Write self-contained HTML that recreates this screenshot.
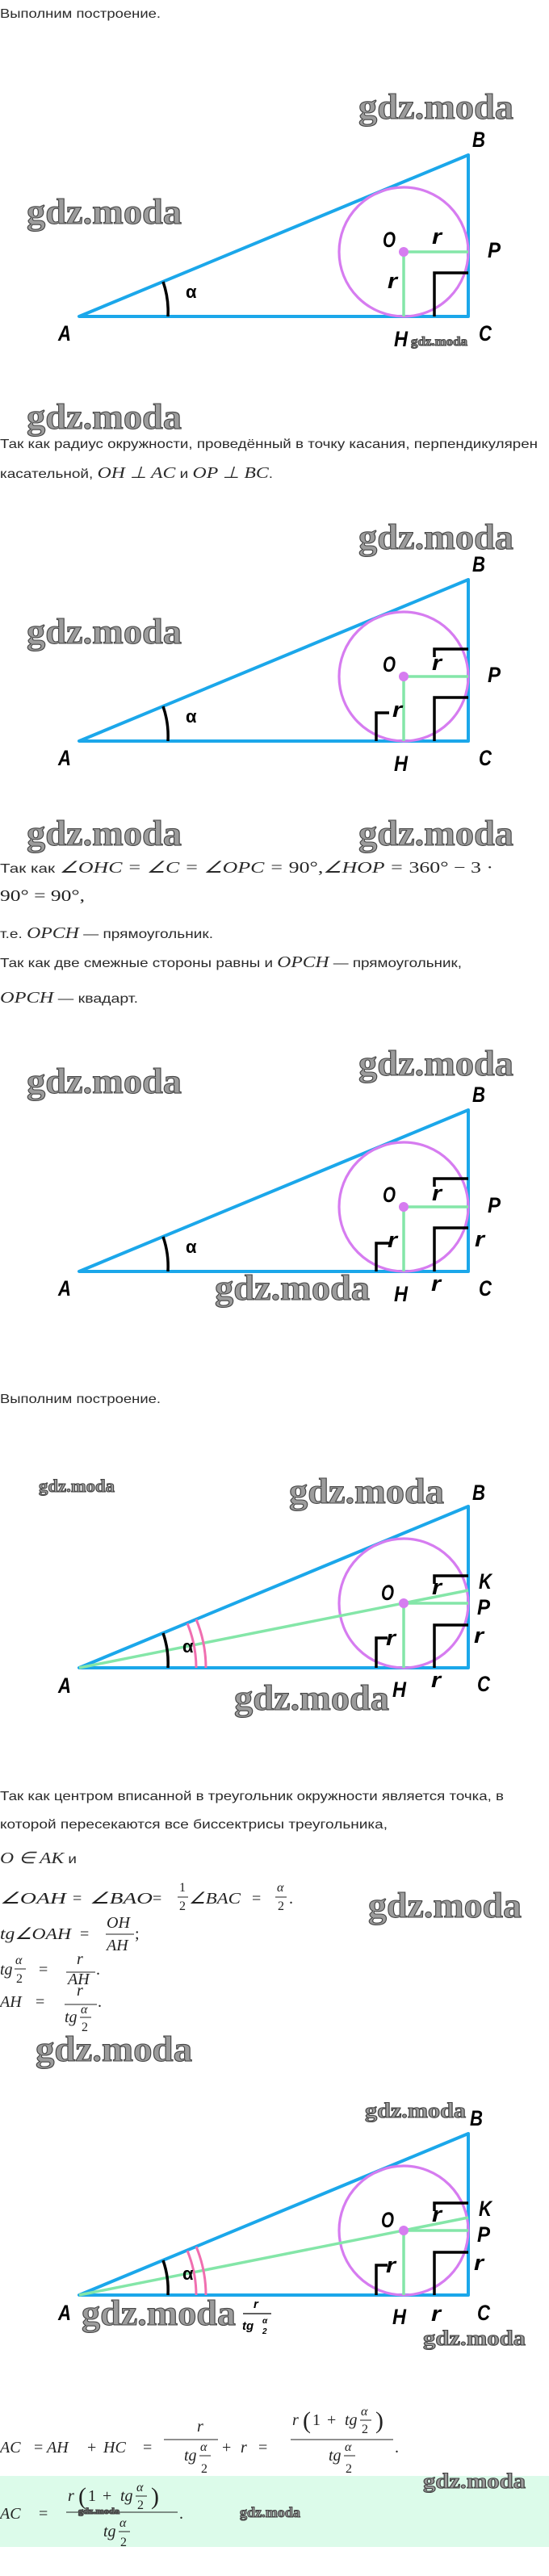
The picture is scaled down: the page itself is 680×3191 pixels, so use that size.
<!DOCTYPE html>
<html><head><meta charset="utf-8">
<style>
html,body{margin:0;padding:0;background:#fff;}
svg{display:block;}
.t{font-family:"Liberation Sans",sans-serif;font-size:16px;fill:#2a2a2a;}
.m{font-family:"Liberation Serif",serif;font-style:italic;}
.mn{font-family:"Liberation Serif",serif;font-style:normal;}
.mx{font-family:"Liberation Serif",serif;font-size:20px;fill:#222;}
.sm{font-family:"Liberation Serif",serif;font-size:15px;fill:#222;}
.wm{font-family:"Liberation Serif",serif;font-weight:bold;fill:#9c9c9c;stroke:#454545;stroke-width:1.1;}
.lb{font-family:"Liberation Sans",sans-serif;font-style:italic;font-weight:bold;font-size:27px;fill:#000;}
.al{font-family:"Liberation Sans",sans-serif;font-weight:bold;font-size:22px;fill:#000;}
.tri{fill:none;stroke:#1ba7ea;stroke-width:4;stroke-linejoin:round;}
.cir{fill:none;stroke:#d67cf0;stroke-width:3.2;}
.gr{stroke:#84e6a8;stroke-width:3.5;fill:none;}
.bk{stroke:#000;stroke-width:3.5;fill:none;}
.pk{stroke:#f06fb0;stroke-width:3;fill:none;}
</style></head>
<body>
<svg width="680" height="3191" viewBox="0 0 680 3191" xmlns="http://www.w3.org/2000/svg">

<!-- ===== Text 1 ===== -->
<text class="t" x="0" y="22" textLength="199" lengthAdjust="spacingAndGlyphs">Выполним построение.</text>

<!-- ===== Diagram 1 (Y=392) ===== -->
<g>
<polygon class="tri" points="98,392 580,392 580,192"/>
<circle class="cir" cx="500" cy="312" r="80"/>
<line class="gr" x1="500" y1="312" x2="580" y2="312"/>
<line class="gr" x1="500" y1="312" x2="500" y2="392"/>
<circle cx="500" cy="312" r="6" fill="#d67cf0"/>
<path class="bk" d="M538,392 V338 H580"/>
<path class="bk" d="M208,392 A112,112 0 0 0 202,349"/>
<text class="lb" x="585" y="182" textLength="16" lengthAdjust="spacingAndGlyphs">B</text>
<text class="lb" x="72" y="422" textLength="16" lengthAdjust="spacingAndGlyphs">A</text>
<text class="lb" x="593" y="422" textLength="16" lengthAdjust="spacingAndGlyphs">C</text>
<text class="lb" x="488" y="429" textLength="17" lengthAdjust="spacingAndGlyphs">H</text>
<text class="lb" x="474" y="306" textLength="16" lengthAdjust="spacingAndGlyphs">O</text>
<text class="lb" x="604" y="319" textLength="16" lengthAdjust="spacingAndGlyphs">P</text>
<text class="lb" x="535" y="302" textLength="12" lengthAdjust="spacingAndGlyphs">r</text>
<text class="lb" x="480" y="357" textLength="12" lengthAdjust="spacingAndGlyphs">r</text>
<text class="al" x="230" y="369">α</text>
</g>
<text class="wm" x="444" y="147" font-size="44" textLength="192" lengthAdjust="spacingAndGlyphs">gdz.moda</text>
<text class="wm" x="33" y="277" font-size="44" textLength="192" lengthAdjust="spacingAndGlyphs">gdz.moda</text>
<text class="wm" x="509" y="428" font-size="16" stroke-width="0.5" textLength="70" lengthAdjust="spacingAndGlyphs">gdz.moda</text>
<text class="wm" x="33" y="531" font-size="44" textLength="192" lengthAdjust="spacingAndGlyphs">gdz.moda</text>

<text class="t" x="0" y="555" textLength="666" lengthAdjust="spacingAndGlyphs">Так как радиус окружности, проведённый в точку касания, перпендикулярен</text>
<text class="t" x="0" y="592" textLength="338" lengthAdjust="spacingAndGlyphs">касательной, <tspan class="m" font-size="20">OH ⊥ AC</tspan> и <tspan class="m" font-size="20">OP ⊥ BC</tspan>.</text>

<!-- ===== Diagram 2 (Y=918) ===== -->
<g>
<polygon class="tri" points="98,918 580,918 580,718"/>
<circle class="cir" cx="500" cy="838" r="80"/>
<line class="gr" x1="500" y1="838" x2="580" y2="838"/>
<line class="gr" x1="500" y1="838" x2="500" y2="918"/>
<circle cx="500" cy="838" r="6" fill="#d67cf0"/>
<path class="bk" d="M538,918 V864 H580"/>
<path class="bk" d="M538,814 V804 H580"/>
<path class="bk" d="M466,918 V883 H482"/>
<path class="bk" d="M208,918 A112,112 0 0 0 202,875"/>
<text class="lb" x="585" y="708" textLength="16" lengthAdjust="spacingAndGlyphs">B</text>
<text class="lb" x="72" y="948" textLength="16" lengthAdjust="spacingAndGlyphs">A</text>
<text class="lb" x="593" y="948" textLength="16" lengthAdjust="spacingAndGlyphs">C</text>
<text class="lb" x="488" y="955" textLength="17" lengthAdjust="spacingAndGlyphs">H</text>
<text class="lb" x="474" y="832" textLength="16" lengthAdjust="spacingAndGlyphs">O</text>
<text class="lb" x="604" y="845" textLength="16" lengthAdjust="spacingAndGlyphs">P</text>
<text class="lb" x="535" y="830" textLength="12" lengthAdjust="spacingAndGlyphs">r</text>
<text class="lb" x="486" y="888" textLength="12" lengthAdjust="spacingAndGlyphs">r</text>
<text class="al" x="230" y="895">α</text>
</g>
<text class="wm" x="444" y="680" font-size="44" textLength="192" lengthAdjust="spacingAndGlyphs">gdz.moda</text>
<text class="wm" x="33" y="797" font-size="44" textLength="192" lengthAdjust="spacingAndGlyphs">gdz.moda</text>
<text class="wm" x="33" y="1047" font-size="44" textLength="192" lengthAdjust="spacingAndGlyphs">gdz.moda</text>
<text class="wm" x="444" y="1047" font-size="44" textLength="192" lengthAdjust="spacingAndGlyphs">gdz.moda</text>

<text class="t" x="0" y="1081" textLength="611" lengthAdjust="spacingAndGlyphs">Так как <tspan class="m" font-size="20">∠OHC  =  ∠C  =  ∠OPC  = </tspan><tspan class="mn" font-size="20"> 90°,</tspan><tspan class="m" font-size="20">∠HOP  = </tspan><tspan class="mn" font-size="20"> 360°  −  3 ·</tspan></text>
<text class="mx" x="0" y="1116" textLength="105" lengthAdjust="spacingAndGlyphs">90°  =  90°,</text>
<text class="t" x="0" y="1162" textLength="264" lengthAdjust="spacingAndGlyphs">т.е. <tspan class="m" font-size="20">OPCH</tspan> — прямоугольник.</text>
<text class="t" x="0" y="1198" textLength="572" lengthAdjust="spacingAndGlyphs">Так как две смежные стороны равны и <tspan class="m" font-size="20">OPCH</tspan> — прямоугольник,</text>
<text class="t" x="0" y="1242" textLength="171" lengthAdjust="spacingAndGlyphs"><tspan class="m" font-size="20">OPCH</tspan> — квадарт.</text>

<!-- ===== Diagram 3 (Y=1575) ===== -->
<g>
<polygon class="tri" points="98,1575 580,1575 580,1375"/>
<circle class="cir" cx="500" cy="1495" r="80"/>
<line class="gr" x1="500" y1="1495" x2="580" y2="1495"/>
<line class="gr" x1="500" y1="1495" x2="500" y2="1575"/>
<circle cx="500" cy="1495" r="6" fill="#d67cf0"/>
<path class="bk" d="M538,1575 V1521 H580"/>
<path class="bk" d="M538,1470 V1460 H580"/>
<path class="bk" d="M466,1575 V1540 H482"/>
<path class="bk" d="M208,1575 A112,112 0 0 0 202,1532"/>
<text class="lb" x="585" y="1365" textLength="16" lengthAdjust="spacingAndGlyphs">B</text>
<text class="lb" x="72" y="1605" textLength="16" lengthAdjust="spacingAndGlyphs">A</text>
<text class="lb" x="593" y="1605" textLength="16" lengthAdjust="spacingAndGlyphs">C</text>
<text class="lb" x="488" y="1612" textLength="17" lengthAdjust="spacingAndGlyphs">H</text>
<text class="lb" x="474" y="1489" textLength="16" lengthAdjust="spacingAndGlyphs">O</text>
<text class="lb" x="604" y="1502" textLength="16" lengthAdjust="spacingAndGlyphs">P</text>
<text class="lb" x="535" y="1487" textLength="12" lengthAdjust="spacingAndGlyphs">r</text>
<text class="lb" x="480" y="1545" textLength="12" lengthAdjust="spacingAndGlyphs">r</text>
<text class="lb" x="588" y="1544" textLength="12" lengthAdjust="spacingAndGlyphs">r</text>
<text class="lb" x="534" y="1599" textLength="12" lengthAdjust="spacingAndGlyphs">r</text>
<text class="al" x="230" y="1552">α</text>
</g>
<text class="wm" x="444" y="1332" font-size="44" textLength="192" lengthAdjust="spacingAndGlyphs">gdz.moda</text>
<text class="wm" x="33" y="1354" font-size="44" textLength="192" lengthAdjust="spacingAndGlyphs">gdz.moda</text>
<text class="wm" x="266" y="1610" font-size="44" textLength="192" lengthAdjust="spacingAndGlyphs">gdz.moda</text>

<text class="t" x="0" y="1738" textLength="199" lengthAdjust="spacingAndGlyphs">Выполним построение.</text>

<!-- ===== Diagram 4 (Y=2066) ===== -->
<g>
<polygon class="tri" points="98,2066 580,2066 580,1866"/>
<circle class="cir" cx="500" cy="1986" r="80"/>
<line class="gr" x1="98" y1="2066" x2="580" y2="1970"/>
<line class="gr" x1="500" y1="1986" x2="580" y2="1986"/>
<line class="gr" x1="500" y1="1986" x2="500" y2="2066"/>
<circle cx="500" cy="1986" r="6" fill="#d67cf0"/>
<path class="bk" d="M538,2066 V2013 H580"/>
<path class="bk" d="M538,1962 V1952 H580"/>
<path class="bk" d="M466,2066 V2029 H480"/>
<path class="bk" d="M208,2066 A112,112 0 0 0 202,2023"/>
<path class="pk" d="M243,2066 A145,145 0 0 0 232,2011"/>
<path class="pk" d="M255,2066 A157,157 0 0 0 243,2006"/>
<text class="lb" x="585" y="1858" textLength="16" lengthAdjust="spacingAndGlyphs">B</text>
<text class="lb" x="72" y="2097" textLength="16" lengthAdjust="spacingAndGlyphs">A</text>
<text class="lb" x="591" y="2095" textLength="16" lengthAdjust="spacingAndGlyphs">C</text>
<text class="lb" x="486" y="2102" textLength="17" lengthAdjust="spacingAndGlyphs">H</text>
<text class="lb" x="472" y="1982" textLength="16" lengthAdjust="spacingAndGlyphs">O</text>
<text class="lb" x="593" y="1968" textLength="16" lengthAdjust="spacingAndGlyphs">K</text>
<text class="lb" x="591" y="2000" textLength="16" lengthAdjust="spacingAndGlyphs">P</text>
<text class="lb" x="535" y="1975" textLength="12" lengthAdjust="spacingAndGlyphs">r</text>
<text class="lb" x="478" y="2038" textLength="12" lengthAdjust="spacingAndGlyphs">r</text>
<text class="lb" x="587" y="2035" textLength="12" lengthAdjust="spacingAndGlyphs">r</text>
<text class="lb" x="534" y="2090" textLength="12" lengthAdjust="spacingAndGlyphs">r</text>
<text class="al" x="226" y="2047">α</text>
</g>
<text class="wm" x="48" y="1848" font-size="22" stroke-width="0.6" textLength="94" lengthAdjust="spacingAndGlyphs">gdz.moda</text>
<text class="wm" x="358" y="1862" font-size="44" textLength="192" lengthAdjust="spacingAndGlyphs">gdz.moda</text>
<text class="wm" x="290" y="2118" font-size="44" textLength="192" lengthAdjust="spacingAndGlyphs">gdz.moda</text>

<!-- ===== Text block 3 ===== -->
<text class="t" x="0" y="2230" textLength="624" lengthAdjust="spacingAndGlyphs">Так как центром вписанной в треугольник окружности является точка, в</text>
<text class="t" x="0" y="2265" textLength="480" lengthAdjust="spacingAndGlyphs">которой пересекаются все биссектрисы треугольника,</text>
<text class="t" x="0" y="2308" textLength="95" lengthAdjust="spacingAndGlyphs"><tspan class="m" font-size="20">O ∈ AK</tspan> и</text>

<g class="mx">
<text class="m" x="0" y="2358" textLength="82" lengthAdjust="spacingAndGlyphs">∠OAH</text>
<text x="90" y="2358">=</text>
<text class="m" x="111" y="2358" textLength="78" lengthAdjust="spacingAndGlyphs">∠BAO</text>
<text x="189" y="2358">=</text>
<text x="222" y="2343" font-size="16">1</text>
<line x1="220" y1="2350" x2="233" y2="2350" stroke="#222" stroke-width="1"/>
<text x="222" y="2366" font-size="16">2</text>
<text class="m" x="234" y="2358" textLength="64" lengthAdjust="spacingAndGlyphs">∠BAC</text>
<text x="312" y="2358">=</text>
<text class="m" x="343" y="2343" font-size="16">α</text>
<line x1="341" y1="2350" x2="355" y2="2350" stroke="#222" stroke-width="1"/>
<text x="344" y="2366" font-size="16">2</text>
<text x="358" y="2358">.</text>

<text class="m" x="0" y="2402" textLength="88" lengthAdjust="spacingAndGlyphs">tg∠OAH</text>
<text x="99" y="2402">=</text>
<text class="m" x="132" y="2388">OH</text>
<line x1="131" y1="2396" x2="166" y2="2396" stroke="#222" stroke-width="1"/>
<text class="m" x="132" y="2416">AH</text>
<text x="167" y="2402">;</text>

<text class="m" x="0" y="2446">tg</text>
<text class="m" x="19" y="2433" font-size="16">α</text>
<line x1="18" y1="2439" x2="32" y2="2439" stroke="#222" stroke-width="1"/>
<text x="20" y="2456" font-size="16">2</text>
<text x="48" y="2446">=</text>
<text class="m" x="95" y="2433">r</text>
<line x1="82" y1="2443" x2="118" y2="2443" stroke="#222" stroke-width="1"/>
<text class="m" x="84" y="2458">AH</text>
<text x="119" y="2446">.</text>

<text class="m" x="0" y="2486">AH</text>
<text x="44" y="2486">=</text>
<text class="m" x="95" y="2472">r</text>
<line x1="80" y1="2483" x2="120" y2="2483" stroke="#222" stroke-width="1"/>
<text class="m" x="80" y="2505">tg</text>
<text class="m" x="100" y="2494" font-size="16">α</text>
<line x1="99" y1="2499" x2="113" y2="2499" stroke="#222" stroke-width="1"/>
<text x="101" y="2516" font-size="16">2</text>
<text x="121" y="2486">.</text>
</g>
<text class="wm" x="456" y="2375" font-size="44" textLength="190" lengthAdjust="spacingAndGlyphs">gdz.moda</text>
<text class="wm" x="44" y="2553" font-size="44" textLength="194" lengthAdjust="spacingAndGlyphs">gdz.moda</text>

<!-- ===== Diagram 5 (Y=2843) ===== -->
<g>
<polygon class="tri" points="98,2843 580,2843 580,2643"/>
<circle class="cir" cx="500" cy="2763" r="80"/>
<line class="gr" x1="98" y1="2843" x2="580" y2="2747"/>
<line class="gr" x1="500" y1="2763" x2="580" y2="2763"/>
<line class="gr" x1="500" y1="2763" x2="500" y2="2843"/>
<circle cx="500" cy="2763" r="6" fill="#d67cf0"/>
<path class="bk" d="M538,2843 V2790 H580"/>
<path class="bk" d="M538,2739 V2729 H580"/>
<path class="bk" d="M466,2843 V2806 H480"/>
<path class="bk" d="M208,2843 A112,112 0 0 0 202,2800"/>
<path class="pk" d="M243,2843 A145,145 0 0 0 232,2788"/>
<path class="pk" d="M255,2843 A157,157 0 0 0 243,2783"/>
<text class="lb" x="582" y="2633" textLength="16" lengthAdjust="spacingAndGlyphs">B</text>
<text class="lb" x="72" y="2874" textLength="16" lengthAdjust="spacingAndGlyphs">A</text>
<text class="lb" x="591" y="2874" textLength="16" lengthAdjust="spacingAndGlyphs">C</text>
<text class="lb" x="486" y="2879" textLength="17" lengthAdjust="spacingAndGlyphs">H</text>
<text class="lb" x="472" y="2759" textLength="16" lengthAdjust="spacingAndGlyphs">O</text>
<text class="lb" x="593" y="2745" textLength="16" lengthAdjust="spacingAndGlyphs">K</text>
<text class="lb" x="591" y="2777" textLength="16" lengthAdjust="spacingAndGlyphs">P</text>
<text class="lb" x="535" y="2752" textLength="12" lengthAdjust="spacingAndGlyphs">r</text>
<text class="lb" x="478" y="2815" textLength="12" lengthAdjust="spacingAndGlyphs">r</text>
<text class="lb" x="587" y="2812" textLength="12" lengthAdjust="spacingAndGlyphs">r</text>
<text class="lb" x="534" y="2875" textLength="12" lengthAdjust="spacingAndGlyphs">r</text>
<text class="al" x="226" y="2824">α</text>
<g font-family="Liberation Sans, sans-serif" font-style="italic" font-weight="bold" fill="#000">
<text x="314" y="2859" font-size="15">r</text>
<line x1="301" y1="2866" x2="336" y2="2866" stroke="#000" stroke-width="1.2"/>
<text x="300" y="2886" font-size="15">tg</text>
<text x="325" y="2878" font-size="10">α</text>
<text x="325" y="2891" font-size="10">2</text>
</g>
</g>
<text class="wm" x="452" y="2623" font-size="26" stroke-width="0.7" textLength="125" lengthAdjust="spacingAndGlyphs">gdz.moda</text>
<text class="wm" x="101" y="2880" font-size="44" textLength="191" lengthAdjust="spacingAndGlyphs">gdz.moda</text>
<text class="wm" x="524" y="2905" font-size="26" stroke-width="0.7" textLength="127" lengthAdjust="spacingAndGlyphs">gdz.moda</text>

<!-- ===== Final equations ===== -->
<g class="mx">
<text class="m" x="0" y="3038">AC</text>
<text x="42" y="3038">=</text>
<text class="m" x="58" y="3038">AH</text>
<text x="108" y="3038">+</text>
<text class="m" x="128" y="3038">HC</text>
<text x="177" y="3038">=</text>
<text class="m" x="244" y="3012">r</text>
<line x1="203" y1="3022" x2="270" y2="3022" stroke="#222" stroke-width="1"/>
<text class="m" x="228" y="3048">tg</text>
<text class="m" x="248" y="3036" font-size="16">α</text>
<line x1="247" y1="3042" x2="261" y2="3042" stroke="#222" stroke-width="1"/>
<text x="249" y="3063" font-size="16">2</text>
<text x="275" y="3038">+</text>
<text class="m" x="298" y="3038">r</text>
<text x="320" y="3038">=</text>
<text class="m" x="362" y="3004">r</text>
<text x="375" y="3008" font-size="30">(</text>
<text x="387" y="3004">1</text>
<text x="405" y="3004">+</text>
<text class="m" x="427" y="3004">tg</text>
<text class="m" x="447" y="2992" font-size="16">α</text>
<line x1="446" y1="2998" x2="460" y2="2998" stroke="#222" stroke-width="1"/>
<text x="448" y="3014" font-size="16">2</text>
<text x="465" y="3008" font-size="30">)</text>
<line x1="360" y1="3022" x2="487" y2="3022" stroke="#222" stroke-width="1"/>
<text class="m" x="407" y="3048">tg</text>
<text class="m" x="427" y="3036" font-size="16">α</text>
<line x1="426" y1="3042" x2="440" y2="3042" stroke="#222" stroke-width="1"/>
<text x="428" y="3063" font-size="16">2</text>
<text x="489" y="3038">.</text>
</g>

<rect x="0" y="3067" width="680" height="88" fill="#dcfbea"/>
<g class="mx">
<text class="m" x="0" y="3120">AC</text>
<text x="48" y="3120">=</text>
<text class="m" x="84" y="3098">r</text>
<text x="97" y="3102" font-size="30">(</text>
<text x="109" y="3098">1</text>
<text x="127" y="3098">+</text>
<text class="m" x="149" y="3098">tg</text>
<text class="m" x="169" y="3086" font-size="16">α</text>
<line x1="168" y1="3092" x2="182" y2="3092" stroke="#222" stroke-width="1"/>
<text x="170" y="3108" font-size="16">2</text>
<text x="187" y="3102" font-size="30">)</text>
<line x1="82" y1="3112" x2="220" y2="3112" stroke="#222" stroke-width="1"/>
<text class="m" x="128" y="3142">tg</text>
<text class="m" x="148" y="3130" font-size="16">α</text>
<line x1="147" y1="3136" x2="161" y2="3136" stroke="#222" stroke-width="1"/>
<text x="149" y="3154" font-size="16">2</text>
<text x="222" y="3120">.</text>
</g>
<text class="wm" x="97" y="3114" font-size="10" stroke-width="0.3" textLength="51" lengthAdjust="spacingAndGlyphs">gdz.moda</text>
<text class="wm" x="297" y="3118" font-size="18" stroke-width="0.5" textLength="75" lengthAdjust="spacingAndGlyphs">gdz.moda</text>
<text class="wm" x="524" y="3082" font-size="26" stroke-width="0.7" textLength="127" lengthAdjust="spacingAndGlyphs">gdz.moda</text>

</svg>
</body></html>
